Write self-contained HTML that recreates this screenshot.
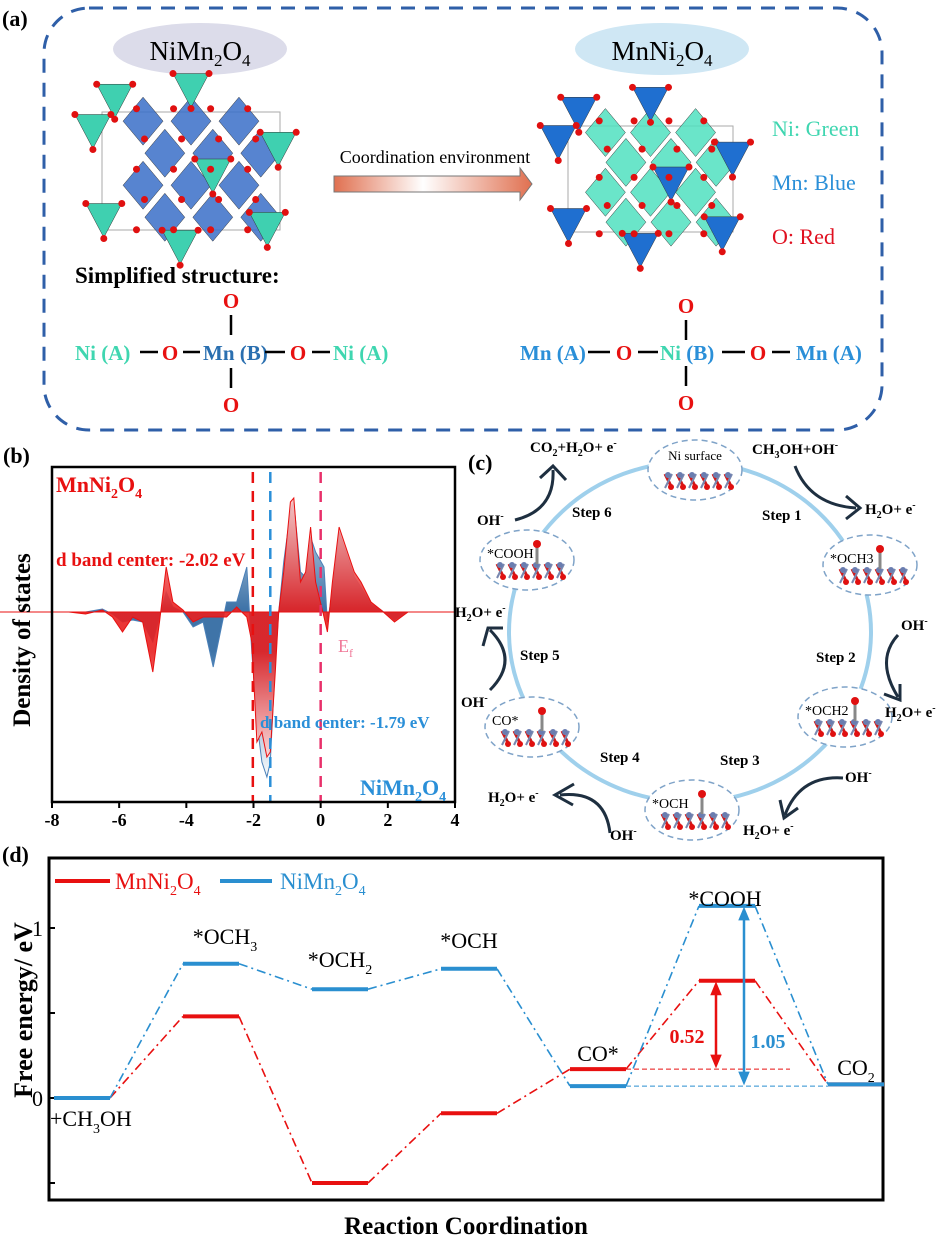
<!DOCTYPE html>
<html><head><meta charset="utf-8"><style>
html,body{margin:0;padding:0;background:#fff}
svg{display:block;font-family:"Liberation Serif",serif}
</style></head><body>
<svg id="fig" width="951" height="1249" viewBox="0 0 951 1249" xmlns="http://www.w3.org/2000/svg">
<defs>
<linearGradient id="arrowGrad" x1="0" x2="1" y1="0" y2="0"><stop offset="0" stop-color="#e07050"/><stop offset="0.45" stop-color="#fff"/><stop offset="1" stop-color="#e07050"/></linearGradient>
<linearGradient id="redFill" gradientUnits="userSpaceOnUse" x1="0" y1="495" x2="0" y2="780"><stop offset="0" stop-color="#f7c8c8"/><stop offset="0.4" stop-color="#e82020"/><stop offset="0.55" stop-color="#e82020"/><stop offset="1" stop-color="#ffffff"/></linearGradient>
<linearGradient id="blueFill" gradientUnits="userSpaceOnUse" x1="0" y1="495" x2="0" y2="780"><stop offset="0" stop-color="#d8e4ef"/><stop offset="0.4" stop-color="#3f74a8"/><stop offset="0.55" stop-color="#3f74a8"/><stop offset="1" stop-color="#ffffff"/></linearGradient>
</defs>

<!-- PANEL A -->
<g>
<text x="2" y="26" font-size="22" font-weight="bold">(a)</text>
<rect x="44" y="8" width="838" height="422" rx="45" fill="none" stroke="#2f5fa8" stroke-width="3" stroke-dasharray="14,10"/>
<ellipse cx="200" cy="49" rx="87" ry="26" fill="#dcdcea"/>
<text x="200" y="60" font-size="27" text-anchor="middle">NiMn<tspan font-size="17" dy="6">2</tspan><tspan dy="-6">O</tspan><tspan font-size="17" dy="6">4</tspan></text>
<ellipse cx="662" cy="49" rx="87" ry="26" fill="#cfe7f4"/>
<text x="662" y="60" font-size="27" text-anchor="middle">MnNi<tspan font-size="17" dy="6">2</tspan><tspan dy="-6">O</tspan><tspan font-size="17" dy="6">4</tspan></text>
<g id="crystalL"></g>
<g id="crystalR"></g>
<text x="435" y="163" font-size="18" text-anchor="middle">Coordination environment</text>
<path d="M334,176 H520 V168 L532,184 L520,200 V192 H334 Z" fill="url(#arrowGrad)" stroke="#777" stroke-width="1"/>
<text x="772" y="136" font-size="22" fill="#3fd6b0">Ni: Green</text>
<text x="772" y="190" font-size="22" fill="#2a8fd8">Mn: Blue</text>
<text x="772" y="244" font-size="22" fill="#e01020">O: Red</text>
<text x="75" y="283" font-size="23" font-weight="bold">Simplified structure:</text>
<g font-size="21" font-weight="bold">
<text x="231" y="308" fill="#e81010" text-anchor="middle">O</text>
<line x1="231" y1="315" x2="231" y2="335" stroke="#000" stroke-width="2.5"/>
<text x="75" y="360" fill="#3fd6b0">Ni (A)</text>
<line x1="140" y1="352" x2="158" y2="352" stroke="#000" stroke-width="2.5"/>
<text x="170" y="360" fill="#e81010" text-anchor="middle">O</text>
<line x1="183" y1="352" x2="200" y2="352" stroke="#000" stroke-width="2.5"/>
<text x="203" y="360" fill="#2a6fb0">Mn (B)</text>
<line x1="265" y1="352" x2="285" y2="352" stroke="#000" stroke-width="2.5"/>
<text x="298" y="360" fill="#e81010" text-anchor="middle">O</text>
<line x1="312" y1="352" x2="330" y2="352" stroke="#000" stroke-width="2.5"/>
<text x="333" y="360" fill="#3fd6b0">Ni (A)</text>
<line x1="231" y1="368" x2="231" y2="388" stroke="#000" stroke-width="2.5"/>
<text x="231" y="412" fill="#e81010" text-anchor="middle">O</text>
</g>
<g font-size="21" font-weight="bold">
<text x="686" y="313" fill="#e81010" text-anchor="middle">O</text>
<line x1="686" y1="320" x2="686" y2="340" stroke="#000" stroke-width="2.5"/>
<text x="520" y="360" fill="#2a8fd8">Mn (A)</text>
<line x1="588" y1="352" x2="610" y2="352" stroke="#000" stroke-width="2.5"/>
<text x="624" y="360" fill="#e81010" text-anchor="middle">O</text>
<line x1="638" y1="352" x2="658" y2="352" stroke="#000" stroke-width="2.5"/>
<text x="660" y="360" fill="#3fd6b0">Ni<tspan fill="#2a8fd8"> (B)</tspan></text>
<line x1="722" y1="352" x2="745" y2="352" stroke="#000" stroke-width="2.5"/>
<text x="758" y="360" fill="#e81010" text-anchor="middle">O</text>
<line x1="772" y1="352" x2="790" y2="352" stroke="#000" stroke-width="2.5"/>
<text x="796" y="360" fill="#2a8fd8">Mn (A)</text>
<line x1="686" y1="366" x2="686" y2="386" stroke="#000" stroke-width="2.5"/>
<text x="686" y="410" fill="#e81010" text-anchor="middle">O</text>
</g>
</g>

<!-- PANEL B -->
<g>
<text x="3" y="463" font-size="22" font-weight="bold">(b)</text>
<g id="dosG"></g>
<text transform="translate(30,640) rotate(-90)" font-size="25" font-weight="bold" text-anchor="middle">Density of states</text>
<text x="56" y="492" font-size="22" font-weight="bold" fill="#e81010">MnNi<tspan font-size="14" dy="6">2</tspan><tspan dy="-6">O</tspan><tspan font-size="14" dy="6">4</tspan></text>
<text x="56" y="566" font-size="19" font-weight="bold" fill="#e81010">d band center: -2.02 eV</text>
<text x="260" y="728" font-size="17" font-weight="bold" fill="#2a8fd8">d band  center: -1.79 eV</text>
<text x="338" y="652" font-size="18" fill="#f07898">E<tspan font-size="12" dy="5">f</tspan></text>
<text x="360" y="795" font-size="22" font-weight="bold" fill="#2a8fd8">NiMn<tspan font-size="14" dy="6">2</tspan><tspan dy="-6">O</tspan><tspan font-size="14" dy="6">4</tspan></text>
</g>

<!-- PANEL C -->
<g font-weight="bold">
<text x="468" y="470" font-size="22">(c)</text>
<ellipse cx="690" cy="632" rx="181" ry="170" fill="none" stroke="#9fd0ec" stroke-width="4"/>
<g id="cycleG"></g>
<g font-size="15">
<text x="572" y="517">Step 6</text>
<text x="762" y="520">Step 1</text>
<text x="816" y="662">Step 2</text>
<text x="720" y="765">Step 3</text>
<text x="600" y="762">Step 4</text>
<text x="520" y="660">Step 5</text>
<text x="530" y="452">CO<tspan font-size="10" dy="4">2</tspan><tspan dy="-4">+H</tspan><tspan font-size="10" dy="4">2</tspan><tspan dy="-4">O+ e</tspan><tspan font-size="10" dy="-6">-</tspan></text>
<text x="752" y="454">CH<tspan font-size="10" dy="4">3</tspan><tspan dy="-4">OH+OH</tspan><tspan font-size="10" dy="-6">-</tspan></text>
<text x="865" y="514">H<tspan font-size="10" dy="4">2</tspan><tspan dy="-4">O+ e</tspan><tspan font-size="10" dy="-6">-</tspan></text>
<text x="477" y="525">OH<tspan font-size="10" dy="-6">-</tspan></text>
<text x="455" y="617">H<tspan font-size="10" dy="4">2</tspan><tspan dy="-4">O+ e</tspan><tspan font-size="10" dy="-6">-</tspan></text>
<text x="461" y="707">OH<tspan font-size="10" dy="-6">-</tspan></text>
<text x="901" y="630">OH<tspan font-size="10" dy="-6">-</tspan></text>
<text x="885" y="717">H<tspan font-size="10" dy="4">2</tspan><tspan dy="-4">O+ e</tspan><tspan font-size="10" dy="-6">-</tspan></text>
<text x="845" y="782">OH<tspan font-size="10" dy="-6">-</tspan></text>
<text x="743" y="835">H<tspan font-size="10" dy="4">2</tspan><tspan dy="-4">O+ e</tspan><tspan font-size="10" dy="-6">-</tspan></text>
<text x="488" y="802">H<tspan font-size="10" dy="4">2</tspan><tspan dy="-4">O+ e</tspan><tspan font-size="10" dy="-6">-</tspan></text>
<text x="610" y="840">OH<tspan font-size="10" dy="-6">-</tspan></text>
</g>
<g fill="none" stroke="#1e2f40" stroke-width="3">
<path d="M515,520 Q555,510 553,470"/><path d="M540,478 L553,466 L566,480"/>
<path d="M795,466 Q810,505 856,508"/><path d="M846,496 L860,508 L846,519"/>
<path d="M490,690 Q520,660 490,630"/><path d="M483,646 L488,628 L503,628"/>
<path d="M898,635 Q875,660 898,697"/><path d="M884,694 L900,700 L900,684"/>
<path d="M843,778 Q800,775 785,815"/><path d="M780,800 L784,818 L798,808"/>
<path d="M610,833 Q605,790 560,795"/><path d="M574,784 L555,795 L573,805"/>
</g>
</g>

<!-- PANEL D -->
<g>
<text x="2" y="862" font-size="22" font-weight="bold">(d)</text>
<g id="fedG"></g>
<text transform="translate(32,1010) rotate(-90)" font-size="26" font-weight="bold" text-anchor="middle">Free energy/ eV</text>
<text x="466" y="1234" font-size="25" font-weight="bold" text-anchor="middle">Reaction Coordination</text>
<line x1="55" y1="881" x2="110" y2="881" stroke="#e81010" stroke-width="4"/>
<text x="115" y="889" font-size="23" fill="#e81010">MnNi<tspan font-size="14" dy="6">2</tspan><tspan dy="-6">O</tspan><tspan font-size="14" dy="6">4</tspan></text>
<line x1="220" y1="881" x2="272" y2="881" stroke="#2a8fd0" stroke-width="4"/>
<text x="280" y="889" font-size="23" fill="#2a8fd0">NiMn<tspan font-size="14" dy="6">2</tspan><tspan dy="-6">O</tspan><tspan font-size="14" dy="6">4</tspan></text>
</g>
</svg>
<script>
const NS='http://www.w3.org/2000/svg';
function mk(tag,attrs,parent){const e=document.createElementNS(NS,tag);for(const k in attrs)e.setAttribute(k,attrs[k]);parent.appendChild(e);return e;}

// ---- DOS data (panel b) ----
const dosEnergy=[-8,-7.5,-7,-6.5,-6.2,-5.9,-5.6,-5.3,-5.0,-4.8,-4.6,-4.4,-4.1,-3.8,-3.5,-3.2,-2.8,-2.5,-2.2,-2.05,-1.9,-1.75,-1.6,-1.5,-1.35,-1.25,-1.1,-0.9,-0.8,-0.6,-0.45,-0.3,-0.15,0.1,0.2,0.35,0.55,0.8,1.0,1.2,1.5,1.8,2.2,2.6,3,4];
const dosRed=[0,0,-0.02,0.02,-0.05,-0.2,-0.05,-0.1,-0.6,-0.1,0.45,0.1,0.02,-0.1,-0.05,-0.05,-0.05,0.05,-0.05,-0.3,-1.3,-1.2,-1.45,-1.4,-0.6,0,0.4,1.1,1.14,0.3,0.4,0.85,0.3,-0.05,-0.2,0.3,0.85,0.6,0.4,0.3,0.1,0.02,-0.1,0,0,0];
const dosBlue=[0,0,0,0.03,-0.02,-0.1,-0.08,-0.1,-0.3,-0.05,0.2,0.05,0,-0.15,-0.1,-0.55,0.1,0.1,0.45,-0.4,-1.1,-1.5,-1.65,-1.5,-0.5,0,0.5,1.0,1.1,0.4,0.35,0.75,0.6,0.45,-0.1,0.2,0.8,0.55,0.35,0.25,0.08,0.02,-0.08,0,0,0];
const dosTicks=[-8,-6,-4,-2,0,2,4];
const dosCenters=[-2.02,-1.5,0];
const dosCenterColors=['#e81010','#2a8fd8','#e8306a'];
const bx0=52,bx1=455,by0=467,by1=802,bzero=612;
const xB=e=>bx0+(e+8)*(bx1-bx0)/12;
const yB=v=>bzero-v*100;
const dosG=document.getElementById('dosG');
function areaPath(vals){let d='M'+xB(dosEnergy[0])+','+bzero;dosEnergy.forEach((e,i)=>{d+=' L'+xB(e).toFixed(1)+','+yB(vals[i]).toFixed(1);});return d+' L'+xB(dosEnergy[dosEnergy.length-1])+','+bzero+' Z';}
const clip=mk('clipPath',{id:'bclip'},dosG);mk('rect',{x:bx0,y:by0,width:bx1-bx0,height:by1-by0},clip);
const inner=mk('g',{'clip-path':'url(#bclip)'},dosG);
const pb=mk('path',{d:areaPath(dosBlue),fill:'url(#blueFill)',stroke:'#4a80b8','stroke-width':1},inner);


const pr=mk('path',{d:areaPath(dosRed),fill:'url(#redFill)','fill-opacity':0.9,stroke:'#e81010','stroke-width':1},inner);


const zl=mk('line',{x1:0,y1:bzero,x2:bx1,y2:bzero,stroke:'#e81010','stroke-width':1},dosG);


dosCenters.forEach((c,i)=>{const l=mk('line',{x1:xB(c),y1:by0+5,x2:xB(c),y2:by1,stroke:dosCenterColors[i],'stroke-width':2.5,'stroke-dasharray':'11,8'},dosG);

});
const fb=mk('rect',{x:bx0,y:by0,width:bx1-bx0,height:by1-by0,fill:'none',stroke:'#000','stroke-width':2.5},dosG);


dosTicks.forEach(t=>{mk('line',{x1:xB(t),y1:by1,x2:xB(t),y2:by1+6,stroke:'#000','stroke-width':2},dosG);
const tx=mk('text',{x:xB(t),y:by1+24,'font-size':18,'font-weight':'bold','text-anchor':'middle'},dosG);tx.textContent=t;

});

// ---- Panel c structures ----
const cycleNames=['Ni surface','*OCH3','*OCH2','*OCH','CO*','*COOH'];
const cycleCx=[695,870,845,692,532,527];
const cycleCy=[470,565,717,810,727,560];
const cg=document.getElementById('cycleG');
cycleNames.forEach((n,i)=>{const g=mk('g',{},cg);


const cx=cycleCx[i],cy=cycleCy[i];
mk('ellipse',{cx:cx,cy:cy,rx:47,ry:30,fill:'#fff',stroke:'#7fa3c8','stroke-width':1.5,'stroke-dasharray':'6,4'},g);
for(let k=0;k<6;k++){const x=cx-30+k*12;mk('line',{x1:x,y1:cy+4,x2:x+7,y2:cy+18,stroke:'#d01818','stroke-width':3},g);mk('line',{x1:x+7,y1:cy+4,x2:x,y2:cy+18,stroke:'#7888b0','stroke-width':2},g);mk('circle',{cx:x+3,cy:cy+5,r:3,fill:'#6a7db0'},g);mk('circle',{cx:x+6,cy:cy+17,r:3,fill:'#e01010'},g);}
if(i>0){mk('line',{x1:cx+10,y1:cy+4,x2:cx+10,y2:cy-14,stroke:'#888','stroke-width':3},g);mk('circle',{cx:cx+10,cy:cy-16,r:4,fill:'#e01010'},g);}
const t=mk('text',{x:i==0?cx:cx-40,y:i==0?cy-10:cy-2,'font-size':i==0?13:14,'font-weight':'normal','text-anchor':i==0?'middle':'start'},g);t.textContent=n;});

// ---- Panel a crystals (decorative) ----
function crystal(gid,x0,y0,w,h,octColor,tetColor){const g=document.getElementById(gid);
mk('rect',{x:x0+20,y:y0+30,width:w-40,height:h-60,fill:'none',stroke:'#aaa','stroke-width':1},g);
for(let r=0;r<4;r++)for(let c=0;c<3;c++){const cx=x0+w*0.28+c*w*0.22+(r%2)*w*0.1,cy=y0+h*0.22+r*h*0.18;
mk('polygon',{points:`${cx},${cy-24} ${cx+20},${cy} ${cx},${cy+24} ${cx-20},${cy}`,fill:octColor,'fill-opacity':0.85,stroke:'#333','stroke-width':0.5},g);}
const tp=[[0.15,0.08],[0.5,0.02],[0.9,0.35],[0.1,0.75],[0.45,0.9],[0.85,0.8],[0.05,0.25],[0.6,0.5]];
tp.forEach(p=>{const cx=x0+p[0]*w,cy=y0+p[1]*h;mk('polygon',{points:`${cx-18},${cy-12} ${cx+18},${cy-12} ${cx},${cy+22}`,fill:tetColor,stroke:'#333','stroke-width':0.5},g);
mk('circle',{cx:cx-18,cy:cy-12,r:3.5,fill:'#e01010'},g);mk('circle',{cx:cx+18,cy:cy-12,r:3.5,fill:'#e01010'},g);mk('circle',{cx:cx,cy:cy+23,r:3.5,fill:'#e01010'},g);});
for(let r=0;r<5;r++)for(let c=0;c<4;c++)mk('circle',{cx:x0+w*0.25+c*w*0.17+(r%2)*8,cy:y0+h*0.15+r*h*0.17,r:3.5,fill:'#e01010'},g);}
crystal('crystalL',82,82,218,178,'#3a6fc8','#3fd0b0');
crystal('crystalR',548,96,205,166,'#50e0c0','#1f6fd0');

// ---- Free energy diagram (panel d) ----
const steps=['+CH3OH','*OCH3','*OCH2','*OCH','CO*','*COOH','CO2'];
const energyRed=[0,0.48,-0.50,-0.09,0.17,0.69,0.08];
const energyBlue=[0,0.79,0.64,0.76,0.07,1.13,0.08];
const yTicks=[-0.5,0,0.5,1];
const yTickLabels=['','0','','1'];
const dx0=49,dx1=883,dy0=858,dy1=1200;
const yD=v=>1098-v*170;
const xC=i=>82+i*129, hw=28;
const fg=document.getElementById('fedG');
const fr=mk('rect',{x:dx0,y:dy0,width:dx1-dx0,height:dy1-dy0,fill:'none',stroke:'#000','stroke-width':3},fg);


yTicks.forEach((t,i)=>{mk('line',{x1:dx0,y1:yD(t),x2:dx0+6,y2:yD(t),stroke:'#000','stroke-width':2},fg);
const tx=mk('text',{x:dx0-6,y:yD(t)+8,'font-size':22,'text-anchor':'end'},fg);tx.textContent=yTickLabels[i];

});
function series(vals,color,name){const g=mk('g',{},fg);


vals.forEach((v,i)=>{if(i<vals.length-1)mk('line',{x1:xC(i)+hw,y1:yD(v),x2:xC(i+1)-hw,y2:yD(vals[i+1]),stroke:color,'stroke-width':1.6,'stroke-dasharray':'9,4,2,4'},g);});
vals.forEach((v,i)=>{const l=mk('line',{x1:xC(i)-hw,y1:yD(v),x2:xC(i)+hw,y2:yD(v),stroke:color,'stroke-width':4},g);

});}
series(energyRed,'#e81010','mnni2o4-levels');
series(energyBlue,'#2a8fd0','nimn2o4-levels');
// barrier dashed refs
mk('line',{x1:xC(4)+hw,y1:yD(energyRed[4]),x2:790,y2:yD(energyRed[4]),stroke:'#e81010','stroke-width':1,'stroke-dasharray':'5,3'},fg);
mk('line',{x1:xC(4)+hw,y1:yD(energyBlue[4]),x2:xC(6)-hw,y2:yD(energyBlue[4]),stroke:'#2a8fd0','stroke-width':1,'stroke-dasharray':'5,3'},fg);
function varrow(x,ya,yb,color,name){const g=mk('g',{stroke:color,fill:color},fg);


mk('line',{x1:x,y1:ya+8,x2:x,y2:yb-8,'stroke-width':2.5},g);
mk('polygon',{points:`${x-5},${ya+14} ${x+5},${ya+14} ${x},${ya+2}`},g);
mk('polygon',{points:`${x-5},${yb-14} ${x+5},${yb-14} ${x},${yb-2}`},g);}
varrow(716,yD(energyRed[5]),yD(energyRed[4]),'#e81010','barrier-arrow-red');
varrow(744,yD(energyBlue[5]),yD(energyBlue[4]),'#2a8fd0','barrier-arrow-blue');
const b1=mk('text',{x:687,y:1043,'font-size':20,'font-weight':'bold',fill:'#e81010','text-anchor':'middle'},fg);b1.textContent=(energyRed[5]-energyRed[4]).toFixed(2);


const b2=mk('text',{x:768,y:1048,'font-size':20,'font-weight':'bold',fill:'#2a8fd0','text-anchor':'middle'},fg);b2.textContent='1.05';


const lbls=[[50,1126,'+CH','3','OH','start'],[225,944,'*OCH','3','','middle'],[340,967,'*OCH','2','','middle'],[469,948,'*OCH','','','middle'],[598,1061,'CO*','','','middle'],[725,906,'*COOH','','','middle'],[856,1075,'CO','2','','middle']];
lbls.forEach(l=>{const t=mk('text',{x:l[0],y:l[1],'font-size':22,'text-anchor':l[5]},fg);


t.appendChild(document.createTextNode(l[2]));if(l[3]){const s=mk('tspan',{'font-size':14,dy:7},t);s.textContent=l[3];}if(l[4]){const s=mk('tspan',{dy:-7},t);s.textContent=l[4];}});
</script>
</body></html>
